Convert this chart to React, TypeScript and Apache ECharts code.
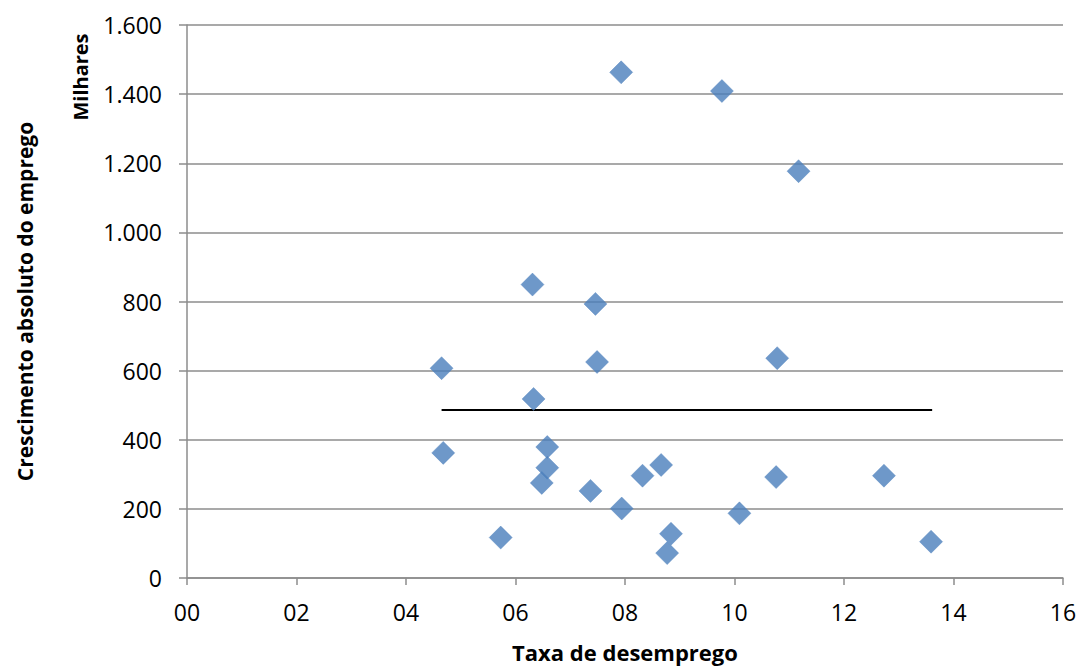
import React, { useEffect, useRef } from "react";
import * as echarts from "echarts";

const unemploymentRate = [
  6.31, 7.46, 4.65, 7.49, 10.78, 6.33, 4.68, 6.58, 6.58, 6.48, 7.37, 7.94, 8.32,
  8.66, 5.73, 8.84, 8.77, 10.09, 10.76, 12.73, 13.59, 7.93, 9.77, 11.17,
];
const employmentGrowth = [
  849, 793, 607, 625, 636, 518, 362, 379, 319, 275, 252, 201, 296,
  327, 117, 128, 72, 187, 292, 296, 105, 1463, 1409, 1177,
];
const averageLineX = [4.65, 13.61];
const averageLineY = [486, 486];

const xTitle = "Taxa de desemprego";
const yTitle = "Crescimento absoluto do emprego";
const yUnit = "Milhares";

const FONT = "'Open Sans', 'Liberation Sans', sans-serif";

export default function App() {
  const ref = useRef<HTMLDivElement>(null);
  useEffect(() => {
    if (!ref.current) return;
    const chart = echarts.init(ref.current, null, { renderer: "svg" });
    const points = unemploymentRate.map((x, i) => [x, employmentGrowth[i]]);
    const line = averageLineX.map((x, i) => [x, averageLineY[i]]);
    chart.setOption({
      animation: false,
      backgroundColor: "#ffffff",
      textStyle: { fontFamily: FONT },
      grid: { left: 187, right: 18, top: 25, bottom: 85 },
      xAxis: {
        type: "value",
        min: 0,
        max: 16,
        interval: 2,
        name: xTitle,
        nameLocation: "middle",
        nameGap: 63,
        nameTextStyle: { fontFamily: FONT, fontSize: 22, fontWeight: "bold", color: "#000" },
        axisLine: { show: true, lineStyle: { color: "#8c8c8c", width: 1.5 } },
        axisTick: { show: true, inside: false, length: 7, lineStyle: { color: "#8c8c8c", width: 1.5 } },
        splitLine: { show: false },
        axisLabel: {
          fontFamily: FONT,
          fontSize: 23,
          color: "#000",
          margin: 22,
          formatter: (v: number) => String(v).padStart(2, "0"),
        },
      },
      yAxis: {
        type: "value",
        min: 0,
        max: 1600,
        interval: 200,
        name: yTitle,
        nameLocation: "middle",
        nameGap: 152,
        nameRotate: 90,
        nameTextStyle: { fontFamily: FONT, fontSize: 21, fontWeight: "bold", color: "#000" },
        axisLine: { show: true, lineStyle: { color: "#8c8c8c", width: 1.5 } },
        axisTick: { show: true, inside: false, length: 8, lineStyle: { color: "#8c8c8c", width: 1.5 } },
        splitLine: { show: true, lineStyle: { color: "#8c8c8c", width: 1.5 } },
        axisLabel: {
          fontFamily: FONT,
          fontSize: 23,
          color: "#000",
          margin: 25,
          formatter: (v: number) => v.toLocaleString("de-DE"),
        },
      },
      graphic: [
        {
          type: "text",
          x: 80,
          y: 77,
          rotation: Math.PI / 2,
          style: {
            text: yUnit,
            font: `bold 20px ${FONT}`,
            fill: "#000",
            align: "center",
            verticalAlign: "middle",
          },
        },
      ],
      series: [
        {
          type: "line",
          data: line,
          symbol: "none",
          lineStyle: { color: "#000", width: 2 },
          silent: true,
          z: 1,
        },
        {
          type: "scatter",
          data: points,
          symbol: "diamond",
          symbolSize: [23, 23],
          itemStyle: { color: "#4A7EBB", borderColor: "#4F81BD", borderWidth: 0.5 },
          z: 3,
        },
      ],
    });
    return () => chart.dispose();
  }, []);
  return (
    <div
      ref={ref}
      style={{ position: "fixed", left: 0, top: 0, width: 1081, height: 668 }}
    />
  );
}
